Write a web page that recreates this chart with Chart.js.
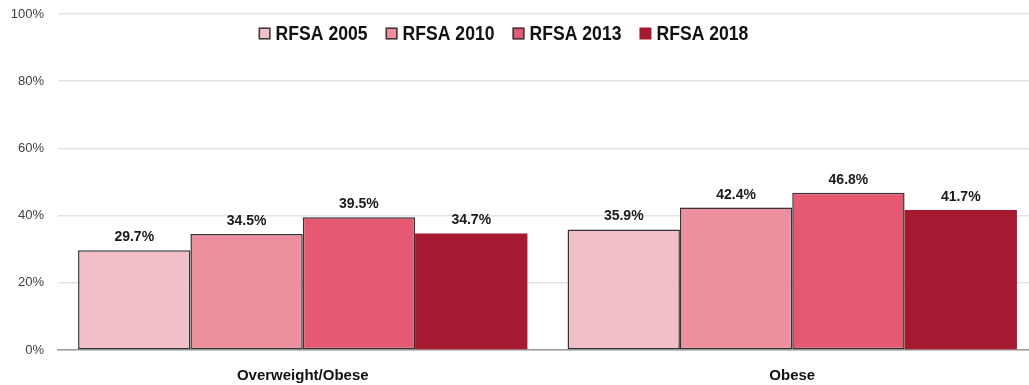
<!DOCTYPE html>
<html>
<head>
<meta charset="utf-8">
<script src="https://cdn.jsdelivr.net/npm/chart.js@4.4.1/dist/chart.umd.min.js"></script>
<style>
html,body{margin:0;padding:0;background:#fff;overflow:hidden;}
#wrap{width:1029px;height:385px;position:relative;overflow:hidden;}
</style>
</head>
<body>
<div id="wrap"><canvas id="c" width="1037" height="385"></canvas></div>
<script>
const categories = ["Overweight/Obese", "Obese"];
const seriesNames = ["RFSA 2005", "RFSA 2010", "RFSA 2013", "RFSA 2018"];
const rfsa2005 = [29.7, 35.9];
const rfsa2010 = [34.5, 42.4];
const rfsa2013 = [39.5, 46.8];
const rfsa2018 = [34.7, 41.7];
const yTicks = [0, 20, 40, 60, 80, 100];

const colors = ["#F0BFC8", "#EE8F9F", "#E55A72", "#A51931"];
const borders = ["#333333", "#333333", "#333333", "#A51931"];
const borderW = [1.5, 1.5, 1.5, 0];
const seriesData = [rfsa2005, rfsa2010, rfsa2013, rfsa2018];

const datasets = seriesNames.map((n, i) => ({
  label: n,
  data: seriesData[i],
  backgroundColor: colors[i],
  borderColor: borders[i],
  borderWidth: borderW[i],
  borderSkipped: false,
  categoryPercentage: 0.918,
  barPercentage: 1.0
}));

const legendFont = "bold 20px 'Liberation Sans', Arial, sans-serif";
const legendSqueeze = 0.88;

const labelPlugin = {
  id: 'valueLabels',
  afterDatasetsDraw(chart) {
    const ctx = chart.ctx;
    ctx.save();
    ctx.font = "bold 14px 'Liberation Sans', Arial, sans-serif";
    ctx.fillStyle = "#1a1a1a";
    ctx.textAlign = "center";
    ctx.textBaseline = "alphabetic";
    chart.data.datasets.forEach((ds, di) => {
      const meta = chart.getDatasetMeta(di);
      meta.data.forEach((bar, i) => {
        ctx.fillText(ds.data[i].toFixed(1) + "%", bar.x, bar.y - 9);
      });
    });
    ctx.restore();
  }
};

const legendPlugin = {
  id: 'customLegend',
  afterDraw(chart) {
    const ctx = chart.ctx;
    ctx.save();
    ctx.font = legendFont;
    const box = 12, gap = 5, itemGap = 18;
    const items = chart.data.datasets.map(d => ({label: d.label, w: ctx.measureText(d.label).width * legendSqueeze, bg: d.backgroundColor}));
    let total = items.reduce((s, it) => s + box + gap + it.w, 0) + itemGap * (items.length - 1);
    let x = chart.width / 2 - 15 - total / 2;
    const cy = 33.5;
    ctx.textBaseline = "middle";
    ctx.textAlign = "left";
    items.forEach((it, i) => {
      ctx.fillStyle = it.bg;
      ctx.fillRect(x, cy - box / 2, box, box);
      if (i < 3) {
        ctx.strokeStyle = "#3a3a3a";
        ctx.lineWidth = 1.5;
        ctx.strokeRect(x + 0.75, cy - box / 2 + 0.75, box - 1.5, box - 1.5);
      }
      ctx.fillStyle = "#111";
      ctx.save();
      ctx.translate(x + box + gap, cy + 1);
      ctx.scale(legendSqueeze, 1);
      ctx.fillText(it.label, 0, 0);
      ctx.restore();
      x += box + gap + it.w + itemGap;
    });
    ctx.restore();
  }
};

new Chart(document.getElementById('c'), {
  type: 'bar',
  data: { labels: categories, datasets },
  options: {
    responsive: false,
    animation: false,
    devicePixelRatio: 1,
    layout: { padding: { top: 0, right: 0, bottom: 0, left: 0 } },
    plugins: {
      legend: { display: false },
      tooltip: { enabled: false }
    },
    scales: {
      x: {
        grid: { display: false },
        border: { display: true, color: "#9a9a9a", width: 1.5 },
        ticks: {
          padding: 9,
          color: "#111",
          font: { family: "'Liberation Sans', Arial, sans-serif", size: 15, weight: 'bold' }
        },
        afterFit(scale) { scale.height = 35; }
      },
      y: {
        min: 0, max: 100,
        afterBuildTicks(scale) { scale.ticks = yTicks.map(v => ({ value: v })); },
        grid: { color: "#e3e3e3", lineWidth: 1.5, drawTicks: false },
        border: { display: false },
        ticks: {
          padding: 14,
          color: "#404040",
          font: { family: "'Liberation Sans', Arial, sans-serif", size: 13 },
          callback: v => v + "%"
        },
        afterFit(scale) { scale.width = 58; scale.paddingTop = 14; }
      }
    }
  },
  plugins: [labelPlugin, legendPlugin]
});
</script>
</body>
</html>
